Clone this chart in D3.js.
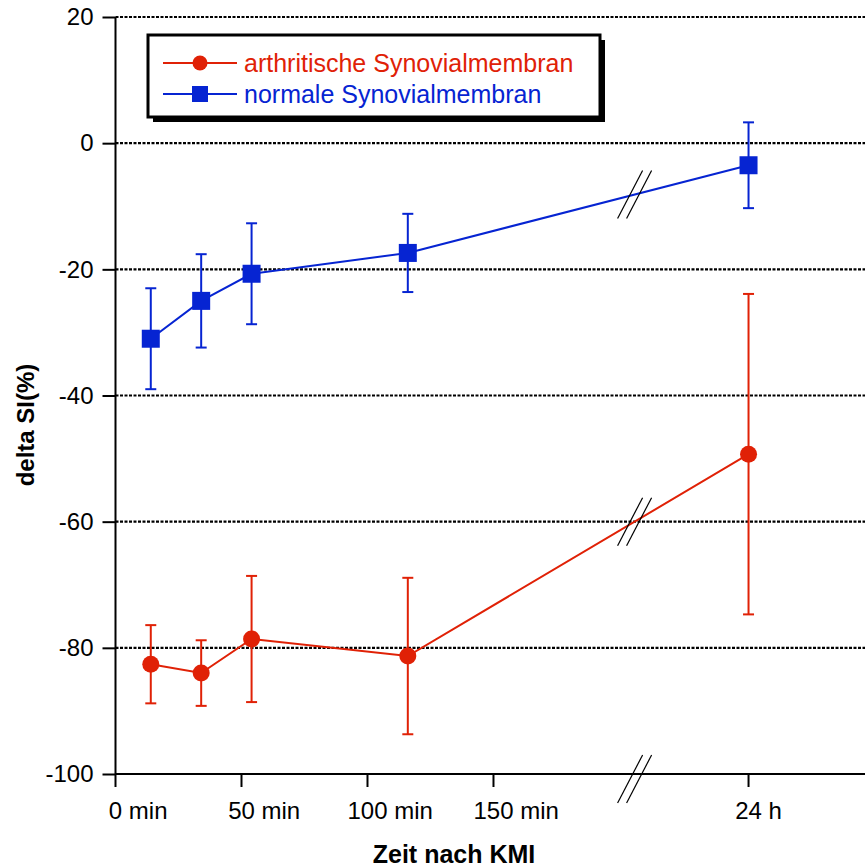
<!DOCTYPE html>
<html>
<head>
<meta charset="utf-8">
<script src="https://d3js.org/d3.v7.min.js"></script>
<style>
  body { margin: 0; background: #fff; }
  text { font-family: "Liberation Sans", Arial, sans-serif; }
</style>
</head>
<body>
<div id="chart"></div>
<script>
// time points in minutes after contrast injection (24 h = 1440 min)
var timesMin = [14, 34, 54, 116, 1440];
// arthritic synovial membrane
var arthMean = [-82.6, -84.0, -78.6, -81.3, -49.3];
var arthErr = [6.2, 5.2, 10.0, 12.4, 25.4];
// normal synovial membrane
var normMean = [-31.0, -25.0, -20.7, -17.4, -3.5];
var normErr = [8.0, 7.4, 8.0, 6.2, 6.8];

var yTicks = [20, 0, -20, -40, -60, -80, -100];
var xTicks = [0, 50, 100, 150, 1440];
var xTickNums = ["0", "50", "100", "150", "24"];
var xTickUnits = [" min", " min", " min", " min", " h"];

var seriesNames = ["arthritische Synovialmembran", "normale Synovialmembran"];
var red = "#e02106", blue = "#0624d2";

var width = 865, height = 867;
var breakMin = 206; // axis break between 150 min and 24 h

var svg = d3.select("#chart").append("svg")
    .attr("width", width)
    .attr("height", height);

// broken time axis: linear minutes, then jump to the 24 h region
var x = d3.scaleLinear()
    .domain([0, breakMin, 1395, 1486])
    .range([115.5, 634.6, 634.6, 865]);
var y = d3.scaleLinear()
    .domain([-100, 20])
    .range([774, 17]);

// dotted grid lines
svg.selectAll(".grid")
    .data(yTicks)
    .enter().append("line")
    .attr("x1", x(0))
    .attr("x2", width)
    .attr("y1", function (d) { return y(d); })
    .attr("y2", function (d) { return y(d); })
    .attr("stroke", "#000")
    .attr("stroke-width", 2.2)
    .attr("stroke-dasharray", "3,1.5");

// y axis
var yAxis = d3.axisLeft(y)
    .tickValues(yTicks)
    .tickSize(13)
    .tickPadding(9)
    .tickFormat(d3.format("d"));
var gy = svg.append("g")
    .attr("transform", "translate(" + x(0) + ",0)")
    .call(yAxis);
gy.select(".domain").attr("stroke-width", 2).attr("d", "M0," + y(20) + "V" + y(-100));
gy.selectAll(".tick line").attr("stroke-width", 2);
gy.selectAll(".tick text")
    .style("font-size", "24px")
    .attr("fill", "#000")
    .text(function (d) { return String(d); });

// x axis
var gx = svg.append("g").attr("transform", "translate(0," + y(-100) + ")");
gx.append("line")
    .attr("x1", x(0)).attr("x2", width)
    .attr("stroke", "#000").attr("stroke-width", 2);
gx.selectAll(".xt")
    .data(xTicks)
    .enter().append("line")
    .attr("x1", function (d) { return x(d); })
    .attr("x2", function (d) { return x(d); })
    .attr("y1", 0).attr("y2", 13)
    .attr("stroke", "#000").attr("stroke-width", 2);
// number part centred under the tick, unit trailing
var xLabels = gx.selectAll(".xl")
    .data(xTicks)
    .enter().append("text")
    .attr("y", 45)
    .style("font-size", "24px")
    .attr("fill", "#000");
xLabels.each(function (d, i) {
    var t = d3.select(this);
    t.append("tspan").attr("class", "num").text(xTickNums[i]);
    t.append("tspan").text(xTickUnits[i]);
    var w = t.select(".num").node().getComputedTextLength();
    t.attr("x", x(d) - w / 2);
});

// break marks (axis and each line)
function breakMark(cx, cy) {
    [-4.5, 4.5].forEach(function (o) {
        svg.append("line")
            .attr("x1", cx + o - 12.5).attr("y1", cy + 24)
            .attr("x2", cx + o + 12.5).attr("y2", cy - 24)
            .attr("stroke", "#000").attr("stroke-width", 1.2);
    });
}
var bx = x(breakMin);
breakMark(bx, y(-100) + 5);

// series
function lineY(means) {
    // y pixel where the line from the last short-time point to 24 h crosses the break
    var x0 = x(timesMin[3]), x1 = x(timesMin[4]);
    var y0 = y(means[3]), y1 = y(means[4]);
    return y0 + (y1 - y0) * (bx - x0) / (x1 - x0);
}

function drawSeries(means, errs, color, shape) {
    var g = svg.append("g");
    var pts = timesMin.map(function (t, i) { return { t: t, m: means[i], e: errs[i] }; });
    // error bars
    pts.forEach(function (p) {
        var px = x(p.t);
        g.append("line")
            .attr("x1", px).attr("x2", px)
            .attr("y1", y(p.m + p.e)).attr("y2", y(p.m - p.e))
            .attr("stroke", color).attr("stroke-width", 2);
        [p.m + p.e, p.m - p.e].forEach(function (v) {
            g.append("line")
                .attr("x1", px - 5.5).attr("x2", px + 5.5)
                .attr("y1", y(v)).attr("y2", y(v))
                .attr("stroke", color).attr("stroke-width", 2);
        });
    });
    g.append("path")
        .datum(pts)
        .attr("fill", "none")
        .attr("stroke", color)
        .attr("stroke-width", 2)
        .attr("d", d3.line().x(function (p) { return x(p.t); }).y(function (p) { return y(p.m); }));
    pts.forEach(function (p) {
        if (shape === "circle") {
            g.append("circle").attr("cx", x(p.t)).attr("cy", y(p.m)).attr("r", 8.5).attr("fill", color);
        } else {
            g.append("rect").attr("x", x(p.t) - 9).attr("y", y(p.m) - 9)
                .attr("width", 18).attr("height", 18).attr("fill", color);
        }
    });
    breakMark(bx, lineY(means));
}

drawSeries(arthMean, arthErr, red, "circle");
drawSeries(normMean, normErr, blue, "square");

// legend
var lg = svg.append("g");
lg.append("rect").attr("x", 153).attr("y", 40).attr("width", 452).attr("height", 82).attr("fill", "#000");
lg.append("rect").attr("x", 148).attr("y", 35).attr("width", 452).attr("height", 82)
    .attr("fill", "#fff").attr("stroke", "#000").attr("stroke-width", 3);
[[red, "circle"], [blue, "square"]].forEach(function (s, i) {
    var ly = 63 + i * 31;
    lg.append("line").attr("x1", 163).attr("x2", 237).attr("y1", ly).attr("y2", ly)
        .attr("stroke", s[0]).attr("stroke-width", 2);
    if (s[1] === "circle") {
        lg.append("circle").attr("cx", 200).attr("cy", ly).attr("r", 7.5).attr("fill", s[0]);
    } else {
        lg.append("rect").attr("x", 192).attr("y", ly - 8).attr("width", 16).attr("height", 16).attr("fill", s[0]);
    }
    lg.append("text").attr("x", 244).attr("y", ly + 9)
        .style("font-size", "25px").attr("fill", s[0])
        .text(seriesNames[i]);
});

// axis titles
svg.append("text")
    .attr("x", 454).attr("y", 863)
    .attr("text-anchor", "middle")
    .style("font-size", "25px").style("font-weight", "bold")
    .text("Zeit nach KMI");
svg.append("text")
    .attr("transform", "translate(34,425) rotate(-90)")
    .attr("text-anchor", "middle")
    .style("font-size", "24px").style("font-weight", "bold")
    .text("delta SI(%)");
</script>
</body>
</html>
